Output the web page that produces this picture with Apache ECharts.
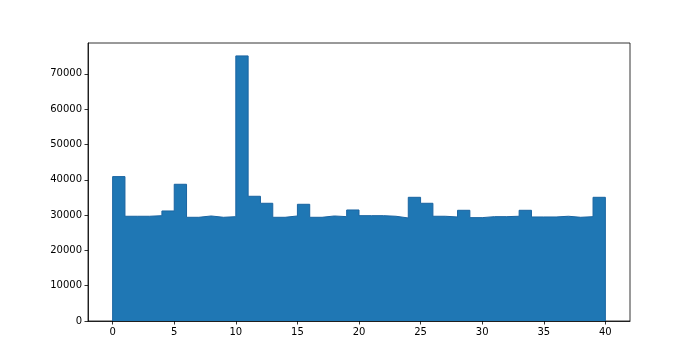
<!DOCTYPE html>
<html>
<head>
<meta charset="utf-8">
<script src="https://cdn.jsdelivr.net/npm/echarts@6/dist/echarts.min.js"></script>
<style>html,body{margin:0;padding:0;background:#fff}#c{width:700px;height:361px}</style>
</head>
<body>
<div id="c"></div>
<script>
var binEdges = [0,1,2,3,4,5,6,7,8,9,10,11,12,13,14,15,16,17,18,19,20,21,22,23,24,25,26,27,28,29,30,31,32,33,34,35,36,37,38,39,40];
var counts = [40900,29670,29670,29840,31170,38730,29380,29750,29380,29560,
              75090,35330,33350,29380,29750,33060,29380,29750,29560,31450,
              29840,29840,29670,29190,35040,33350,29670,29470,31360,29280,
              29560,29560,29670,31360,29470,29470,29670,29380,29560,35040];
var xTicks = [0,5,10,15,20,25,30,35,40];
var yTicks = [0,10000,20000,30000,40000,50000,60000,70000];

var outline = [[binEdges[0],0]];
counts.forEach(function(v,i){ outline.push([binEdges[i],v]); outline.push([binEdges[i+1],v]); });
outline.push([binEdges[binEdges.length-1],0]);

var font = 'DejaVu Sans';
var chart = echarts.init(document.getElementById('c'), null, {renderer:'canvas'});
chart.setOption({
  animation:false,
  grid:{left:88,right:70,top:43,bottom:40,show:true,borderColor:'#000',borderWidth:0.8,backgroundColor:'transparent'},
  xAxis:{type:'value',min:-2,max:42,
    axisLine:{show:true,onZero:false,lineStyle:{color:'#000',width:0.8}},
    axisTick:{show:true,length:3.5,customValues:xTicks,lineStyle:{color:'#000',width:0.8}},
    axisLabel:{customValues:xTicks,color:'#000',fontFamily:font,fontSize:10,margin:6,
      formatter:function(v){return String(v);}},
    splitLine:{show:false}},
  yAxis:{type:'value',min:0,max:78750,
    axisLine:{show:true,onZero:false,lineStyle:{color:'#000',width:0.8}},
    axisTick:{show:true,length:3.5,customValues:yTicks,lineStyle:{color:'#000',width:0.8}},
    axisLabel:{customValues:yTicks,color:'#000',fontFamily:font,fontSize:10,margin:6,
      formatter:function(v){return String(v);}},
    splitLine:{show:false}},
  series:[
    {type:'line',data:outline,symbol:'none',silent:true,
      lineStyle:{color:'#1a65a2',width:1},
      areaStyle:{color:'#1f77b4',opacity:1,origin:0}}
  ]
});
</script>
</body>
</html>
